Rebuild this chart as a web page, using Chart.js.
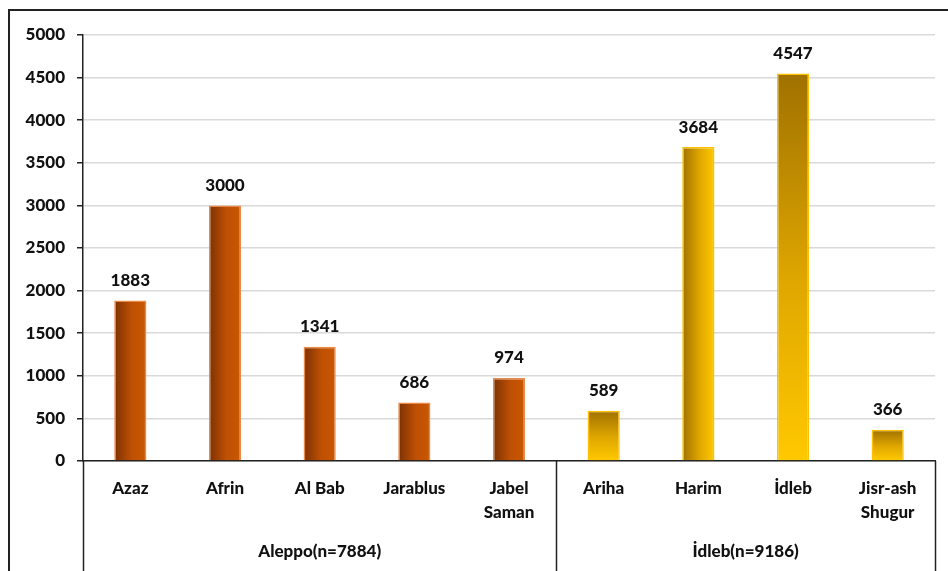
<!DOCTYPE html>
<html>
<head>
<meta charset="utf-8">
<script src="https://cdn.jsdelivr.net/npm/chart.js@4"></script>
<style>
html,body{margin:0;padding:0;background:#fff;}
#wrap{width:948px;height:571px;position:relative;}
</style>
</head>
<body>
<div id="wrap"><canvas id="c" width="948" height="571"></canvas></div>
<script>
const categories = ["Azaz", "Afrin", "Al Bab", "Jarablus", ["Jabel", "Saman"], "Ariha", "Harim", "İdleb", ["Jisr-ash", "Shugur"]];
const values = [1883, 3000, 1341, 686, 974, 589, 3684, 4547, 366];
const groupLabels = ["Aleppo(n=7884)", "İdleb(n=9186)"];
const groupSizes = [5, 4];
const yTicks = [0, 500, 1000, 1500, 2000, 2500, 3000, 3500, 4000, 4500, 5000];

const FONT = "Lato";
const FS = 17;
const FW = 900;

function groupOf(i) {
  let acc = 0;
  for (let g = 0; g < groupSizes.length; g++) {
    acc += groupSizes[g];
    if (i < acc) return g;
  }
  return groupSizes.length - 1;
}
// gradient direction per bar: 'h' horizontal, 'v' vertical
const gradDir = ['h','h','h','h','h','v','h','v','v'];
const palette = [
  {dark: '#7c3104', mid: '#bf5004', light: '#c95800', border: '#e98a4a'},
  {dark: '#a07100', mid: '#e0a800', light: '#ffc800', border: '#ffc000'}
];

const gradientPlugin = {
  id: 'barGradients',
  beforeDatasetsDraw(chart) {
    const c = chart.ctx;
    const meta = chart.getDatasetMeta(0);
    meta.data.forEach((el, i) => {
      const p = palette[groupOf(i)];
      const half = el.width / 2;
      let g;
      if (gradDir[i] === 'h') {
        g = c.createLinearGradient(el.x - half, 0, el.x + half, 0);
      } else {
        g = c.createLinearGradient(0, el.y, 0, el.base);
      }
      g.addColorStop(0, p.dark);
      g.addColorStop(0.55, p.mid);
      g.addColorStop(1, p.light);
      el.options.backgroundColor = g;
    });
  }
};

const framePlugin = {
  id: 'frame',
  beforeDraw(chart) {
    const c = chart.ctx;
    c.save();
    c.fillStyle = '#fff';
    c.fillRect(0, 0, chart.width, chart.height);
    c.strokeStyle = '#222';
    c.lineWidth = 2;
    c.strokeRect(9, 10, chart.width + 20, chart.height + 20);
    c.restore();
  }
};

const labelsPlugin = {
  id: 'valueLabels',
  afterDatasetsDraw(chart) {
    const c = chart.ctx;
    const meta = chart.getDatasetMeta(0);
    c.save();
    c.font = FW + " " + FS + "px " + FONT;
    c.fillStyle = '#111';
    c.textAlign = 'center';
    c.textBaseline = 'middle';
    meta.data.forEach((el, i) => {
      c.fillText(String(values[i]), el.x, el.y - 20);
    });
    c.restore();
  }
};

const groupPlugin = {
  id: 'groups',
  afterDraw(chart) {
    const c = chart.ctx;
    const x = chart.scales.x;
    const area = chart.chartArea;
    c.save();
    c.strokeStyle = '#222';
    c.lineWidth = 1.5;
    const bounds = [area.left];
    let acc = 0;
    groupSizes.forEach((n) => {
      acc += n;
      if (acc < values.length) {
        bounds.push((x.getPixelForValue(acc - 1) + x.getPixelForValue(acc)) / 2);
      }
    });
    bounds.push(area.right);
    bounds.forEach(bx => {
      c.beginPath();
      c.moveTo(Math.round(bx) + 0.5, area.bottom);
      c.lineTo(Math.round(bx) + 0.5, chart.height);
      c.stroke();
    });
    c.font = FW + " " + FS + "px " + FONT;
    c.fillStyle = '#111';
    c.textAlign = 'center';
    c.textBaseline = 'middle';
    let start = 0;
    groupSizes.forEach((n, g) => {
      const cx = (x.getPixelForValue(start) + x.getPixelForValue(start + n - 1)) / 2;
      c.fillText(groupLabels[g], cx, 552);
      start += n;
    });
    c.restore();
  }
};

new Chart(document.getElementById('c'), {
  type: 'bar',
  data: {
    labels: categories,
    datasets: [{
      data: values,
      backgroundColor: ctx => palette[groupOf(ctx.dataIndex)].light,
      borderColor: ctx => palette[groupOf(ctx.dataIndex)].border,
      borderWidth: 1.5,
      categoryPercentage: 1,
      barPercentage: 0.34
    }]
  },
  options: {
    responsive: false,
    animation: false,
    devicePixelRatio: 1,
    layout: {padding: {top: 35, right: 13, left: 0, bottom: 0}},
    plugins: {legend: {display: false}, tooltip: {enabled: false}},
    scales: {
      x: {
        grid: {display: false, drawTicks: false},
        border: {color: '#222', width: 1.5},
        ticks: {
          color: '#111',
          font: {family: FONT, size: FS, weight: FW, lineHeight: 1.45},
          padding: 15,
          maxRotation: 0,
          autoSkip: false
        },
        afterFit(s) { s.height = 110; }
      },
      y: {
        min: 0,
        max: 5000,
        afterBuildTicks(s) { s.ticks = yTicks.map(v => ({value: v})); },
        grid: {color: '#d9d9d9', lineWidth: 1.5, tickColor: '#222', tickLength: 6, drawTicks: true},
        border: {color: '#222', width: 1.5},
        ticks: {
          color: '#111',
          font: {family: FONT, size: FS, weight: FW},
          padding: 12,
          callback: v => String(v)
        },
        afterFit(s) { s.width = 83; }
      }
    }
  },
  plugins: [framePlugin, gradientPlugin, labelsPlugin, groupPlugin]
});
</script>
</body>
</html>
